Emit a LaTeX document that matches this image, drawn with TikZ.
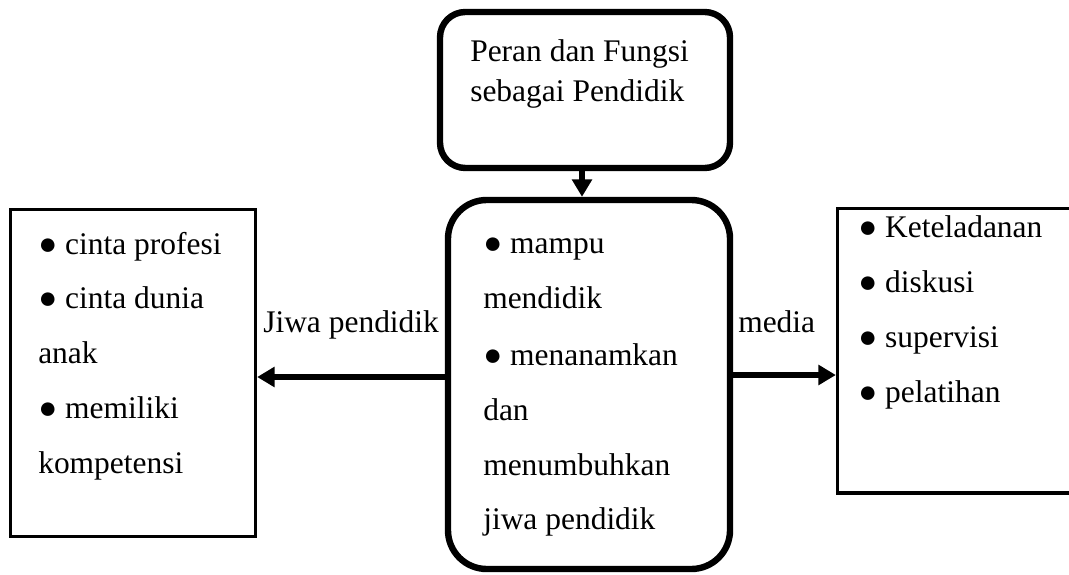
\documentclass[tikz,border=0pt]{standalone}
\usepackage{fontspec}
\setmainfont{Liberation Serif}
\usetikzlibrary{arrows.meta}
\begin{document}
\begin{tikzpicture}[x=0.75pt,y=-0.75pt,
  thickbox/.style={draw, line width=4.8pt, rounded corners=#1, inner sep=0pt},
  thinbox/.style={draw, line width=2.5pt, inner sep=0pt},
  txt/.style={anchor=base west, inner sep=0pt, font=\fontsize{23.6pt}{28pt}\selectfont},
  arr/.style={line width=4.5pt, -{Triangle[length=13pt,width=14.5pt]}}]
\useasboundingbox (0,0) rectangle (1069,574);
\clip (0,0) rectangle (1069,574);
% boxes
\node[thickbox=19pt, minimum width=217.5pt, minimum height=117pt] (top) at (585,90) {};
\node[thickbox=29pt, minimum width=211.5pt, minimum height=276.75pt] (mid) at (589,384.5) {};
\node[thinbox, minimum width=183.75pt, minimum height=245.25pt] (lbox) at (133,373) {};
\node[thinbox, minimum width=189.4pt, minimum height=213.4pt] (rbox) at (963.75,350.75) {};
% texts
\node[txt] (t1) at (470,62) {Peran dan Fungsi};
\node[txt] (t2) at (470,102) {sebagai Pendidik};
\node[txt] (l1) at (38,254) {● cinta profesi};
\node[txt] (l2) at (38,308) {● cinta dunia};
\node[txt] (l3) at (38,363) {anak};
\node[txt] (l4) at (38,418) {● memiliki};
\node[txt] (l5) at (38,473) {kompetensi};
\node[txt] (m1) at (483,253) {● mampu};
\node[txt] (m2) at (483,308) {mendidik};
\node[txt] (m3) at (483,365) {● menanamkan};
\node[txt] (m4) at (483,420) {dan};
\node[txt] (m5) at (483,475) {menumbuhkan};
\node[txt] (m6) at (483,529) {jiwa pendidik};
\node[txt] (r1) at (858,237) {● Keteladanan};
\node[txt] (r2) at (858,292) {● diskusi};
\node[txt] (r3) at (858,347) {● supervisi};
\node[txt] (r4) at (858,402) {● pelatihan};
\node[txt] (jl) at (263,332) {Jiwa pendidik};
\node[txt] (ml) at (738,332) {media};
% connectors
\coordinate (ly) at (0,377);
\coordinate (ry) at (0,375);
\coordinate (dx) at (582,0);
\draw[arr] (top.south -| dx) -- (mid.north -| dx);
\draw[arr] (mid.west |- ly) -- (lbox.east |- ly);
\draw[arr] (mid.east |- ry) -- (rbox.west |- ry);
\end{tikzpicture}
\end{document}
